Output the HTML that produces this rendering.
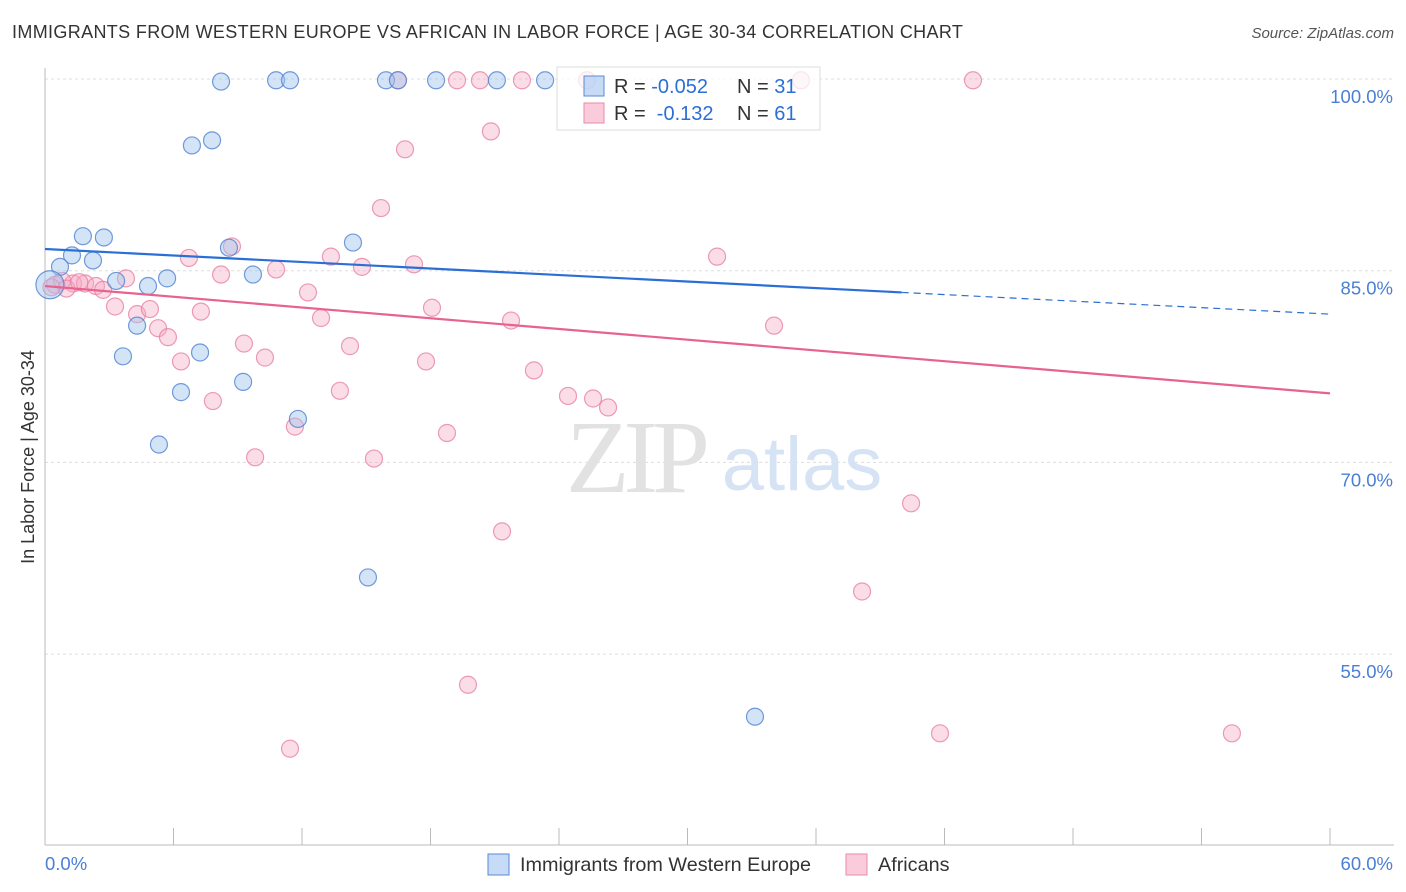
<!DOCTYPE html>
<html><head><meta charset="utf-8">
<style>
body{margin:0;background:#fff;font-family:"Liberation Sans",sans-serif;}
#wrap{position:relative;width:1406px;height:892px;overflow:hidden;}
.title{position:absolute;left:12px;top:22px;font-size:18px;color:#333;letter-spacing:0.35px;}
.src{position:absolute;right:12px;top:25px;font-size:15px;color:#555;font-style:italic;}
</style></head><body>
<div id="wrap">
<div class="title">IMMIGRANTS FROM WESTERN EUROPE VS AFRICAN IN LABOR FORCE | AGE 30-34 CORRELATION CHART</div>
<div class="src">Source: ZipAtlas.com</div>
<svg id="svg" width="1406" height="892" style="position:absolute;left:0;top:0"></svg>
</div>
<script>
const blueX=[8.22,10.79,11.44,15.92,16.48,18.26,21.1,23.35,6.86,7.8,1.77,2.75,1.26,2.24,0.7,0.23,3.32,4.81,5.7,4.3,3.64,8.59,9.71,14.38,7.24,9.25,6.35,11.81,5.32,15.08,33.15];
const blueY=[99.8,99.9,99.9,99.9,99.9,99.9,99.9,99.9,94.8,95.2,87.7,87.6,86.2,85.8,85.3,83.9,84.2,83.8,84.4,80.7,78.3,86.8,84.7,87.2,78.6,76.3,75.5,73.4,71.4,61.0,50.1];
const pinkX=[16.48,19.24,20.31,22.27,25.31,35.3,43.33,20.82,16.81,15.69,8.73,6.72,8.22,10.79,13.35,14.8,17.23,31.38,0.47,1.31,1.87,2.38,2.71,3.78,3.27,4.3,4.9,7.28,5.28,5.74,12.28,12.89,18.07,21.76,34.04,9.29,10.27,14.24,6.35,17.79,22.83,13.77,7.84,24.42,25.59,26.29,11.67,18.77,9.81,15.36,21.34,40.44,38.15,19.75,11.44,41.79,55.42,0.8,1.0,1.6,0.3];
const pinkY=[99.9,99.9,99.9,99.9,99.9,99.9,99.9,95.9,94.5,89.9,86.9,86.0,84.7,85.1,86.1,85.3,85.5,86.1,83.9,84.0,84.0,83.8,83.5,84.4,82.2,81.6,82.0,81.8,80.5,79.8,83.3,81.3,82.1,81.1,80.7,79.3,78.2,79.1,77.9,77.9,77.2,75.6,74.8,75.2,75.0,74.3,72.8,72.3,70.4,70.3,64.6,66.8,59.9,52.6,47.6,48.8,48.8,84.2,83.6,84.1,83.7];
const trendBlue=[86.7,-0.085];
const trendPink=[83.8,-0.14];
const yTicks=[100,85,70,55];
const yTickLabels=["100.0%","85.0%","70.0%","55.0%"];
const xTicks=[0,6,12,18,24,30,36,42,48,54,60];

const NS="http://www.w3.org/2000/svg";
const svg=document.getElementById('svg');
const sx=v=>45+v*1285/60;
const sy=v=>79+(100-v)*12.78;
function mk(t,a){const e=document.createElementNS(NS,t);for(const k in a)e.setAttribute(k,a[k]);svg.appendChild(e);return e;}

yTicks.forEach((t,i)=>{
 const g=mk('line',{x1:45,x2:1394,y1:sy(t),y2:sy(t),stroke:'#ddd','stroke-dasharray':'3,3'});
 
 
 const tx=mk('text',{x:1393,y:sy(t)+24,'text-anchor':'end','font-size':18.5,fill:'#4a7fd4','font-family':'Liberation Sans, sans-serif'});
 tx.textContent=yTickLabels[i];
 
 
});
const ax=mk('line',{x1:45,x2:45,y1:68,y2:845,stroke:'#bbb'});


const bx=mk('line',{x1:45,x2:1394,y1:845,y2:845,stroke:'#bbb'});


xTicks.forEach(t=>{
 const l=mk('line',{x1:sx(t),x2:sx(t),y1:828,y2:845,stroke:'#bbb'});
 
 
});
[['0.0%',45,'start'],['60.0%',1393,'end']].forEach(a=>{
 const t=mk('text',{x:a[1],y:870,'text-anchor':a[2],'font-size':18.5,fill:'#4a7fd4','font-family':'Liberation Sans, sans-serif'});
 t.textContent=a[0];
 
 
});
const yt=mk('text',{x:0,y:0,transform:'translate(34,457) rotate(-90)','text-anchor':'middle','font-size':18,fill:'#333','font-family':'Liberation Sans, sans-serif'});
yt.textContent='In Labor Force | Age 30-34';



const w1=mk('text',{x:635,y:492,'text-anchor':'middle','font-size':104,fill:'#e2e2e2','font-family':'Liberation Serif, serif','letter-spacing':'-6'});
w1.textContent='ZIP';


const w2=mk('text',{x:802,y:490,'text-anchor':'middle','font-size':76,fill:'#d6e3f5','font-family':'Liberation Sans, sans-serif'});
w2.textContent='atlas';



pinkX.forEach((x,i)=>{
 const c=mk('circle',{cx:sx(x),cy:sy(pinkY[i]),r:8.5,fill:'rgba(246,170,195,0.4)',stroke:'rgba(232,130,165,0.8)','stroke-width':1.2});
 
 
});
blueX.forEach((x,i)=>{
 const c=mk('circle',{cx:sx(x),cy:sy(blueY[i]),r:i==15?14:8.5,fill:'rgba(160,195,238,0.45)',stroke:'rgba(80,130,210,0.8)','stroke-width':1.2});
 
 
});
const bs=mk('line',{x1:sx(0),y1:sy(trendBlue[0]),x2:sx(40),y2:sy(trendBlue[0]+trendBlue[1]*40),stroke:'#2b6fd6','stroke-width':2.2});


const bd=mk('line',{x1:sx(40),y1:sy(trendBlue[0]+trendBlue[1]*40),x2:sx(60),y2:sy(trendBlue[0]+trendBlue[1]*60),stroke:'#2b6fd6','stroke-width':1.2,'stroke-dasharray':'7,5'});


const ps=mk('line',{x1:sx(0),y1:sy(trendPink[0]),x2:sx(60),y2:sy(trendPink[0]+trendPink[1]*60),stroke:'#e8628e','stroke-width':2.2});



const lb=mk('rect',{x:557,y:67,width:263,height:63,fill:'rgba(255,255,255,0.75)',stroke:'#ddd'});


[[86,'rgba(160,195,238,0.6)','#5a8ad6','-0.052','31'],[113,'rgba(246,170,195,0.6)','#e88aa8','-0.132','61']].forEach((r,i)=>{
 const s=mk('rect',{x:584,y:r[0]-10,width:20,height:20,fill:r[1],stroke:r[2]});
 
 
 const t=mk('text',{x:614,y:r[0]+7,'font-size':20,fill:'#333','font-family':'Liberation Sans, sans-serif'});
 t.innerHTML='R = <tspan fill="#2b6fd6">'+(i?'\u00a0':'')+r[3]+'</tspan>  <tspan x="737">N = </tspan><tspan fill="#2b6fd6">'+r[4]+'</tspan>';
 
 
});
[[488,'rgba(160,195,238,0.6)','#5a8ad6','Immigrants from Western Europe'],[846,'rgba(246,170,195,0.6)','#e88aa8','Africans']].forEach(r=>{
 const s=mk('rect',{x:r[0],y:854,width:21,height:21,fill:r[1],stroke:r[2]});
 
 
 const t=mk('text',{x:r[0]+32,y:871,'font-size':19.8,fill:'#333','font-family':'Liberation Sans, sans-serif'});
 t.textContent=r[3];
 
 
});
</script>
</body></html>
